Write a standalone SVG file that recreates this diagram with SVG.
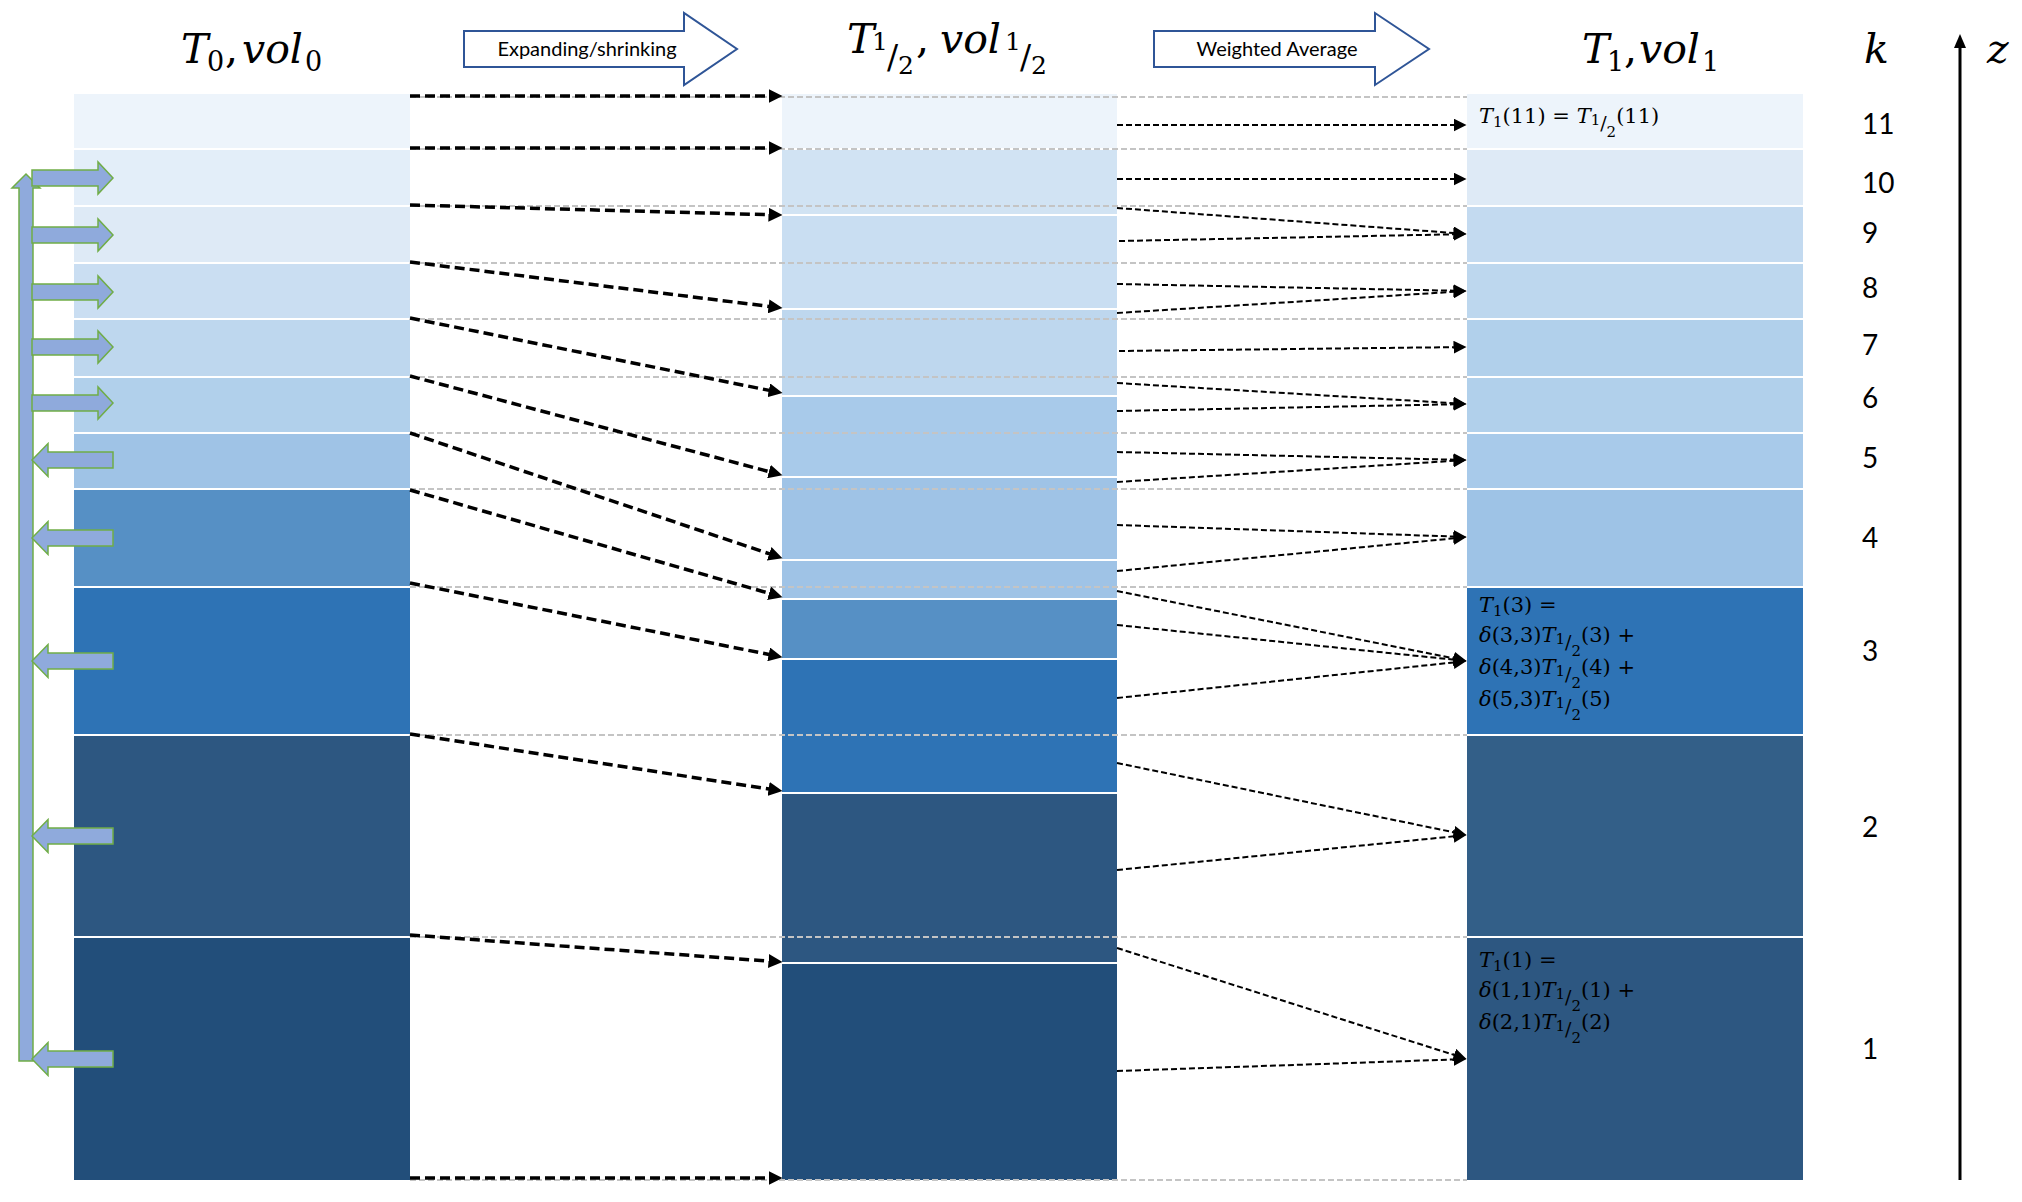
<svg xmlns="http://www.w3.org/2000/svg" xmlns:xlink="http://www.w3.org/1999/xlink" width="2022" height="1202" viewBox="0 0 2022 1202">
<style>
.m{font-family:"DejaVu Serif","Liberation Serif",serif;fill:#000}
.it{font-style:italic}
.tt{font-size:41px}
.ts{font-size:27px}
.fm{font-family:"DejaVu Serif","Liberation Serif",serif;font-size:21px;fill:#000}
.sb{font-size:15px}
.sl{font-size:19px}
.lbl{font-family:Lato,"Liberation Sans",sans-serif;font-size:20px;fill:#000;text-anchor:middle}
.kn{font-family:Lato,"Liberation Sans",sans-serif;font-size:28px;fill:#000}
.grey{stroke:#C4C4C4;stroke-width:1.8;stroke-dasharray:6 3;fill:none}
.thick{stroke:#000;stroke-width:3.5;stroke-dasharray:10 5;fill:none;marker-end:url(#ahThick)}
.thin{stroke:#000;stroke-width:2;stroke-dasharray:6 3;fill:none;marker-end:url(#ahThin)}
.big{fill:#fff;stroke:#2F5597;stroke-width:2}
.ga{fill:#8FAADC;stroke:#70AD47;stroke-width:1.5}
</style>
<defs>
<marker id="ahThick" markerUnits="userSpaceOnUse" markerWidth="16" markerHeight="14" refX="0.5" refY="7" orient="auto"><path d="M0,0 L14,7 L0,14 Z" fill="#000"/></marker>
<marker id="ahThin" markerUnits="userSpaceOnUse" markerWidth="15" markerHeight="13" refX="0.5" refY="6.5" orient="auto"><path d="M0,0 L13,6.5 L0,13 Z" fill="#000"/></marker>
<path id="rArrow" class="ga" d="M32,-8 L98,-8 L98,-16 L113,0 L98,16 L98,8 L32,8 Z"/>
<path id="lArrow" class="ga" d="M32,0 L48,-16.5 L48,-8 L113,-8 L113,8 L48,8 L48,16.5 Z"/>
</defs>
<rect width="2022" height="1202" fill="#fff"/>

<g id="col-T0">
<rect x="74" y="94" width="336" height="54" fill="#EDF4FB"/>
<rect x="74" y="150" width="336" height="55" fill="#E3EEF9"/>
<rect x="74" y="207" width="336" height="55" fill="#DEEAF6"/>
<rect x="74" y="264" width="336" height="54" fill="#CADEF2"/>
<rect x="74" y="320" width="336" height="56" fill="#BED7EE"/>
<rect x="74" y="378" width="336" height="54" fill="#B1D0EB"/>
<rect x="74" y="434" width="336" height="54" fill="#9FC3E6"/>
<rect x="74" y="490" width="336" height="96" fill="#5690C5"/>
<rect x="74" y="588" width="336" height="146" fill="#2E73B5"/>
<rect x="74" y="736" width="336" height="200" fill="#2D5781"/>
<rect x="74" y="938" width="336" height="242" fill="#224E7A"/>
</g>

<g id="col-Thalf">
<rect x="782" y="94" width="335" height="54" fill="#EDF4FB"/>
<rect x="782" y="150" width="335" height="64" fill="#D1E3F3"/>
<rect x="782" y="216" width="335" height="92" fill="#C9DEF2"/>
<rect x="782" y="310" width="335" height="85" fill="#BED7EE"/>
<rect x="782" y="397" width="335" height="79" fill="#A8CAEA"/>
<rect x="782" y="478" width="335" height="81" fill="#9FC3E6"/>
<rect x="782" y="561" width="335" height="37" fill="#9FC3E6"/>
<rect x="782" y="600" width="335" height="58" fill="#5690C5"/>
<rect x="782" y="660" width="335" height="132" fill="#2E73B5"/>
<rect x="782" y="794" width="335" height="168" fill="#2D5781"/>
<rect x="782" y="964" width="335" height="216" fill="#224E7A"/>
</g>

<g id="col-T1">
<rect x="1467" y="94" width="336" height="54" fill="#EDF4FB"/>
<rect x="1467" y="150" width="336" height="55" fill="#DEEAF6"/>
<rect x="1467" y="207" width="336" height="55" fill="#C3DAF0"/>
<rect x="1467" y="264" width="336" height="54" fill="#BDD7EE"/>
<rect x="1467" y="320" width="336" height="56" fill="#B1D0EB"/>
<rect x="1467" y="378" width="336" height="54" fill="#B1D0EB"/>
<rect x="1467" y="434" width="336" height="54" fill="#A8CAEA"/>
<rect x="1467" y="490" width="336" height="96" fill="#9EC3E6"/>
<rect x="1467" y="588" width="336" height="146" fill="#2E73B5"/>
<rect x="1467" y="736" width="336" height="200" fill="#335F88"/>
<rect x="1467" y="938" width="336" height="242" fill="#2D5781"/>
</g>

<g id="grid-lines">
<line class="grey" x1="410" y1="97" x2="1467" y2="97"/>
<line class="grey" x1="410" y1="149" x2="1467" y2="149"/>
<line class="grey" x1="410" y1="206" x2="1467" y2="206"/>
<line class="grey" x1="410" y1="263" x2="1467" y2="263"/>
<line class="grey" x1="410" y1="319" x2="1467" y2="319"/>
<line class="grey" x1="410" y1="377" x2="1467" y2="377"/>
<line class="grey" x1="410" y1="433" x2="1467" y2="433"/>
<line class="grey" x1="410" y1="489" x2="1467" y2="489"/>
<line class="grey" x1="410" y1="587" x2="1467" y2="587"/>
<line class="grey" x1="410" y1="735" x2="1467" y2="735"/>
<line class="grey" x1="410" y1="937" x2="1467" y2="937"/>
<line class="grey" x1="410" y1="1180" x2="1467" y2="1180"/>
</g>

<g id="flux-arrows">
<path class="ga" d="M19,1061 L19,188 L12,188 L26,174 L40,188 L33,188 L33,1061 Z"/>
<use xlink:href="#rArrow" href="#rArrow" x="0" y="178"/>
<use xlink:href="#rArrow" href="#rArrow" x="0" y="235"/>
<use xlink:href="#rArrow" href="#rArrow" x="0" y="292"/>
<use xlink:href="#rArrow" href="#rArrow" x="0" y="347"/>
<use xlink:href="#rArrow" href="#rArrow" x="0" y="403"/>
<use xlink:href="#lArrow" href="#lArrow" x="0" y="460"/>
<use xlink:href="#lArrow" href="#lArrow" x="0" y="538"/>
<use xlink:href="#lArrow" href="#lArrow" x="0" y="661"/>
<use xlink:href="#lArrow" href="#lArrow" x="0" y="836"/>
<use xlink:href="#lArrow" href="#lArrow" x="0" y="1059"/>
</g>

<g id="connectors">
<line class="thick" x1="410" y1="96" x2="769" y2="96"/>
<line class="thick" x1="410" y1="148" x2="769" y2="148"/>
<line class="thick" x1="410" y1="205" x2="769" y2="214.7"/>
<line class="thick" x1="410" y1="262" x2="769.1" y2="306.4"/>
<line class="thick" x1="410" y1="318" x2="769.3" y2="390.4"/>
<line class="thick" x1="410" y1="376" x2="769.4" y2="471.7"/>
<line class="thick" x1="410" y1="433" x2="769.7" y2="553.9"/>
<line class="thick" x1="410" y1="490" x2="769.5" y2="593.4"/>
<line class="thick" x1="410" y1="583" x2="769.2" y2="654.5"/>
<line class="thick" x1="410" y1="734" x2="769.1" y2="789"/>
<line class="thick" x1="410" y1="935" x2="769" y2="961.1"/>
<line class="thick" x1="410" y1="1178" x2="769" y2="1178"/>

<line class="thin" x1="1117" y1="125" x2="1454" y2="125"/>
<line class="thin" x1="1117" y1="179" x2="1454" y2="179"/>
<line class="thin" x1="1117" y1="208" x2="1454" y2="233"/>
<line class="thin" x1="1119" y1="241" x2="1454" y2="234.3"/>
<line class="thin" x1="1117" y1="284" x2="1454" y2="290.7"/>
<line class="thin" x1="1117" y1="313" x2="1454" y2="291.8"/>
<line class="thin" x1="1119" y1="351" x2="1454" y2="347.15"/>
<line class="thin" x1="1117" y1="383" x2="1454" y2="403.2"/>
<line class="thin" x1="1117" y1="411" x2="1454" y2="404.3"/>
<line class="thin" x1="1117" y1="452" x2="1454" y2="459.7"/>
<line class="thin" x1="1117" y1="482" x2="1454" y2="460.8"/>
<line class="thin" x1="1117" y1="525" x2="1454" y2="536.55"/>
<line class="thin" x1="1117" y1="571" x2="1454.1" y2="538.3"/>
<line class="thin" x1="1117" y1="591" x2="1454.3" y2="658.5"/>
<line class="thin" x1="1117" y1="625" x2="1454.1" y2="659.7"/>
<line class="thin" x1="1117" y1="698" x2="1454.1" y2="662.4"/>
<line class="thin" x1="1117" y1="763" x2="1454.3" y2="832.4"/>
<line class="thin" x1="1117" y1="870" x2="1454.1" y2="836.3"/>
<line class="thin" x1="1117" y1="948" x2="1454.6" y2="1055.1"/>
<line class="thin" x1="1117" y1="1071" x2="1454" y2="1059.45"/>
</g>

<g id="step-expand">
<path class="big" d="M464,31 L684,31 L684,13 L737,49 L684,85 L684,67 L464,67 Z"/>
<text class="lbl" x="587" y="56">Expanding/shrinking</text>
</g>
<g id="step-average">
<path class="big" d="M1154,31 L1375,31 L1375,13 L1429,49 L1375,85 L1375,67 L1154,67 Z"/>
<text class="lbl" x="1277" y="56">Weighted Average</text>
</g>

<g id="title-T0">
<text class="m tt it" x="181" y="63">T</text>
<text class="m ts" x="207" y="71">0</text>
<text class="m tt" x="225" y="63">,</text>
<text class="m tt it" x="242" y="63">vol</text>
<text class="m ts" x="305" y="71">0</text>
</g>
<g id="title-Thalf">
<text class="m tt it" x="847" y="53">T</text>
<text class="m" font-size="25" x="872" y="50">1</text>
<text class="m" font-size="33" x="887" y="69">/</text>
<text class="m" font-size="25" x="898" y="74">2</text>
<text class="m tt" x="916" y="53">,</text>
<text class="m tt it" x="940" y="53">vol</text>
<text class="m" font-size="25" x="1005" y="50">1</text>
<text class="m" font-size="33" x="1020" y="69">/</text>
<text class="m" font-size="25" x="1031" y="74">2</text>
</g>
<g id="title-T1">
<text class="m tt it" x="1582" y="63">T</text>
<text class="m ts" x="1607" y="71">1</text>
<text class="m tt" x="1624" y="63">,</text>
<text class="m tt it" x="1639" y="63">vol</text>
<text class="m ts" x="1702" y="71">1</text>
</g>

<g id="axis">
<text class="m tt it" x="1864" y="63">k</text>
<text class="m tt it" x="1987" y="63">z</text>
<line x1="1960" y1="1180" x2="1960" y2="47" stroke="#000" stroke-width="3"/>
<path d="M1960,34 L1966,48 L1954,48 Z" fill="#000"/>
</g>

<g id="k-labels">
<text class="kn" x="1862" y="134">11</text>
<text class="kn" x="1862" y="193">10</text>
<text class="kn" x="1862" y="243">9</text>
<text class="kn" x="1862" y="298">8</text>
<text class="kn" x="1862" y="355">7</text>
<text class="kn" x="1862" y="408">6</text>
<text class="kn" x="1862" y="468">5</text>
<text class="kn" x="1862" y="548">4</text>
<text class="kn" x="1862" y="661">3</text>
<text class="kn" x="1862" y="837">2</text>
<text class="kn" x="1862" y="1059">1</text>
</g>

<g id="eq-11">
<text class="fm" x="1479" y="123"><tspan class="it">T</tspan><tspan class="sb" dy="4">1</tspan><tspan dy="-4">(11) = </tspan><tspan class="it">T</tspan><tspan class="sb" dy="2">1</tspan><tspan class="sl" dy="5">/</tspan><tspan class="sb" dy="7">2</tspan><tspan dy="-14">(11)</tspan></text>
</g>
<g id="eq-3">
<text class="fm" x="1479" y="612"><tspan class="it">T</tspan><tspan class="sb" dy="4">1</tspan><tspan dy="-4">(3) =</tspan></text>
<text class="fm" x="1479" y="642"><tspan class="it">δ</tspan>(3,3)<tspan class="it">T</tspan><tspan class="sb" dy="2">1</tspan><tspan class="sl" dy="5">/</tspan><tspan class="sb" dy="7">2</tspan><tspan dy="-14">(3) +</tspan></text>
<text class="fm" x="1479" y="674"><tspan class="it">δ</tspan>(4,3)<tspan class="it">T</tspan><tspan class="sb" dy="2">1</tspan><tspan class="sl" dy="5">/</tspan><tspan class="sb" dy="7">2</tspan><tspan dy="-14">(4) +</tspan></text>
<text class="fm" x="1479" y="706"><tspan class="it">δ</tspan>(5,3)<tspan class="it">T</tspan><tspan class="sb" dy="2">1</tspan><tspan class="sl" dy="5">/</tspan><tspan class="sb" dy="7">2</tspan><tspan dy="-14">(5)</tspan></text>
</g>
<g id="eq-1">
<text class="fm" x="1479" y="967"><tspan class="it">T</tspan><tspan class="sb" dy="4">1</tspan><tspan dy="-4">(1) =</tspan></text>
<text class="fm" x="1479" y="997"><tspan class="it">δ</tspan>(1,1)<tspan class="it">T</tspan><tspan class="sb" dy="2">1</tspan><tspan class="sl" dy="5">/</tspan><tspan class="sb" dy="7">2</tspan><tspan dy="-14">(1) +</tspan></text>
<text class="fm" x="1479" y="1029"><tspan class="it">δ</tspan>(2,1)<tspan class="it">T</tspan><tspan class="sb" dy="2">1</tspan><tspan class="sl" dy="5">/</tspan><tspan class="sb" dy="7">2</tspan><tspan dy="-14">(2)</tspan></text>
</g>
</svg>
